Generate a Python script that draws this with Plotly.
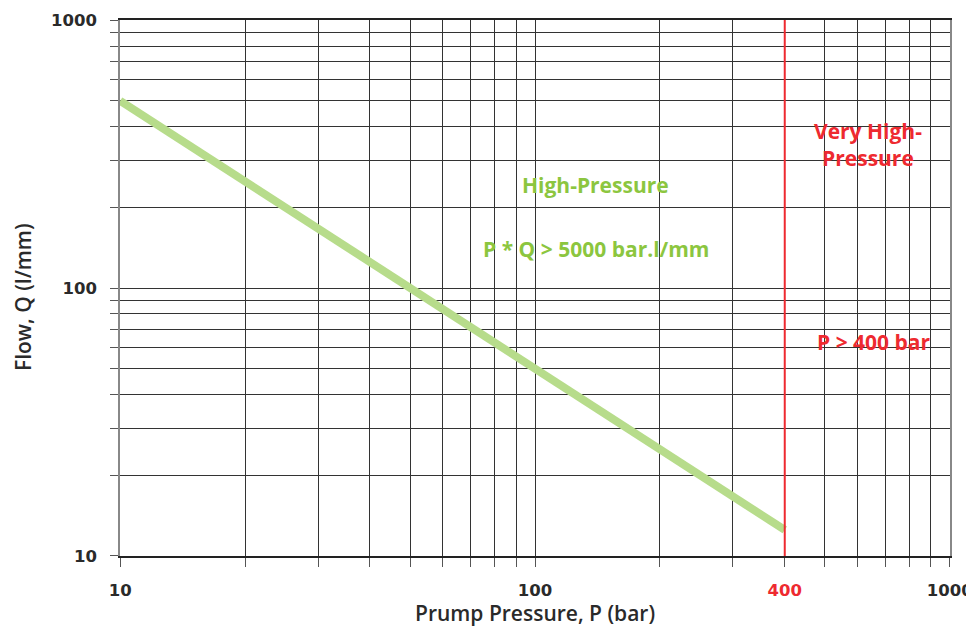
import plotly.graph_objects as go

# Data
pressure = [10, 400]          # bar
flow = [500, 12.5]            # l/mm  (P * Q = 5000)
limit_pressure = [400, 400]
limit_flow = [10, 1000]

x_grid = [10, 20, 30, 40, 50, 60, 70, 80, 90, 100, 200, 300, 400, 500, 600, 700, 800, 900, 1000]
x_labels = ["10", "", "", "", "", "", "", "", "", "100", "", "",
            "<span style='color:#ee2a30'>400</span>", "", "", "", "", "", "1000"]
y_grid = [10, 20, 30, 40, 50, 60, 70, 80, 90, 100, 200, 300, 400, 500, 600, 700, 800, 900, 1000]
y_labels = ["10", "", "", "", "", "", "", "", "", "100", "", "", "", "", "", "", "", "", "1000"]

x_title = "Prump Pressure, P (bar)"
y_title = "Flow, Q (l/mm)"

GREEN = "#8cc63f"
LINE_GREEN = "#b7dc8b"
RED = "#ee2a30"
TXT = "#2a2a2a"
FONT = "Open Sans"
TICKFONT = dict(family="DejaVu Sans", size=16.5, color=TXT, weight=700)
TITLEFONT = dict(family=FONT, size=21, color=TXT, weight=600)

fig = go.Figure()
fig.add_trace(go.Scatter(x=pressure, y=flow, mode="lines",
                         line=dict(color=LINE_GREEN, width=8), showlegend=False))
fig.add_trace(go.Scatter(x=limit_pressure, y=limit_flow, mode="lines",
                         line=dict(color=RED, width=2), showlegend=False))

fig.update_layout(
    width=966, height=619,
    margin=dict(l=112, r=24, t=12, b=71),
    paper_bgcolor="white", plot_bgcolor="white",
    font=dict(family=FONT, color=TXT),
)
fig.update_xaxes(
    type="log", range=[0.9996, 3.0004], automargin=False,
    tickmode="array", tickvals=x_grid, ticktext=x_labels,
    showgrid=True, gridcolor="#333333", gridwidth=1,
    showline=True, linecolor="#222222", linewidth=1.5, mirror=True,
    ticks="outside", ticklen=9, tickcolor="#555555", tickwidth=1,
    ticklabelstandoff=9, ticklabeloverflow="allow",
    tickfont=TICKFONT,
    zeroline=False,
)
fig.update_yaxes(
    type="log", range=[0.9996, 3.0004], automargin=False,
    tickmode="array", tickvals=y_grid, ticktext=y_labels,
    showgrid=True, gridcolor="#333333", gridwidth=1,
    showline=True, linecolor="#888888", linewidth=1.5, mirror=True,
    ticks="outside", ticklen=8, tickcolor="#555555", tickwidth=1,
    ticklabelstandoff=10, ticklabeloverflow="allow",
    tickfont=TICKFONT,
    zeroline=False,
)

# axis titles
fig.add_annotation(x=0.5, y=0, xref="paper", yref="paper", text=x_title,
                   showarrow=False, font=TITLEFONT, yanchor="middle", yshift=-57,
                   borderpad=0)
fig.add_annotation(x=0, y=0.5, xref="paper", yref="paper", text=y_title,
                   showarrow=False, font=TITLEFONT, textangle=-90,
                   xanchor="center", xshift=-97, yshift=-9)

ann_font_g = dict(family=FONT, size=21, color=GREEN, weight=700)
ann_font_r = dict(family=FONT, size=21, color=RED, weight=700)
fig.add_annotation(x=2.145, y=2.384, xref="x", yref="y", text="High-Pressure",
                   showarrow=False, font=ann_font_g)
fig.add_annotation(x=2.147, y=2.146, xref="x", yref="y", text="P * Q > 5000 bar.l/mm",
                   showarrow=False, font=ann_font_g)
fig.add_annotation(x=2.802, y=2.534, xref="x", yref="y", text="Very High-<br>Pressure",
                   showarrow=False, font=ann_font_r)
fig.add_annotation(x=2.817, y=1.798, xref="x", yref="y", text="P > 400 bar",
                   showarrow=False, font=ann_font_r)

fig.write_html("out.html")
